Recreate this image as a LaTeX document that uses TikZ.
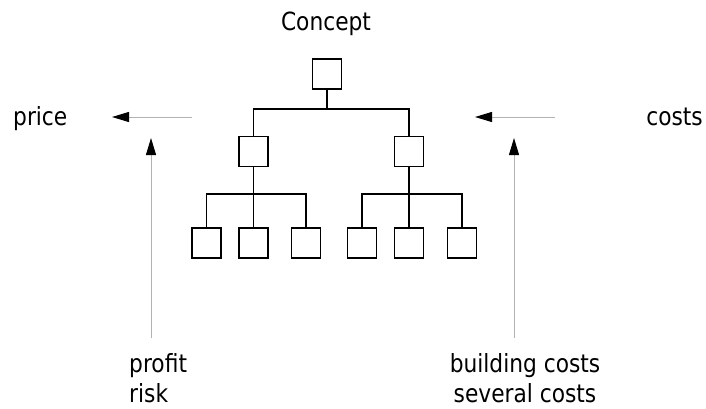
\documentclass[tikz,border=0pt]{standalone}
\usepackage{fontspec}
\setmainfont[FakeStretch=0.87]{DejaVu Sans}
\usetikzlibrary{arrows.meta}
\begin{document}
\begin{tikzpicture}[x=1pt,y=-1pt,
  box/.style={draw=black,line width=1.9pt,minimum width=29pt,minimum height=30pt,inner sep=0pt,outer sep=0pt},
  tree/.style={draw=black,line width=1.9pt},
  grey/.style={draw=black!30,line width=1pt,-{Triangle[length=17pt,width=10pt,color=black]}},
  lbl/.style={inner sep=0pt,font=\fontsize{25}{30}\selectfont}]
\useasboundingbox (0,0) rectangle (706,408);
% boxes
\node[box] (c) at (327,74) {};
\node[box] (m1) at (253.5,151.5) {};
\node[box] (m2) at (409,151.5) {};
\node[box] (l1) at (206.5,243) {};
\node[box] (l2) at (253.5,243) {};
\node[box] (l3) at (306,243) {};
\node[box] (r1) at (362,243) {};
\node[box] (r2) at (409,243) {};
\node[box] (r3) at (462,243) {};
% tree connectors
\coordinate (b0) at (327,109);
\coordinate (b1) at (253.5,194);
\coordinate (b2) at (409,194);
\draw[tree] (c.south) -- (b0);
\draw[tree] (m1.north) |- (b0) -| (m2.north);
\draw[tree] (m1.south) -- (l2.north);
\draw[tree] (l1.north) |- (b1) -| (l3.north);
\draw[tree] (m2.south) -- (r2.north);
\draw[tree] (r1.north) |- (b2) -| (r3.north);
% labels
\node[lbl,anchor=base] (concept) at (326,30) {Concept};
\node[lbl,anchor=base west] (price) at (13,125) {price};
\node[lbl,anchor=base east] (costs) at (703,125) {costs};
\node[lbl,anchor=base west] (profit) at (129,372) {profit};
\node[lbl,anchor=base west] (risk) at (129,402) {risk};
\node[lbl,anchor=base] (bc) at (525,372) {building costs};
\node[lbl,anchor=base] (sc) at (525,402) {several costs};
% grey arrows
\coordinate (a1s) at (192,117); \coordinate (a1e) at (112,117);
\coordinate (a2s) at (151,338); \coordinate (a2e) at (151,138);
\coordinate (a3s) at (555,117); \coordinate (a3e) at (475,117);
\coordinate (a4s) at (514,338); \coordinate (a4e) at (514,138);
\draw[grey] (a1s) -- (a1e);
\draw[grey] (a2s) -- (a2e);
\draw[grey] (a3s) -- (a3e);
\draw[grey] (a4s) -- (a4e);
\end{tikzpicture}
\end{document}
